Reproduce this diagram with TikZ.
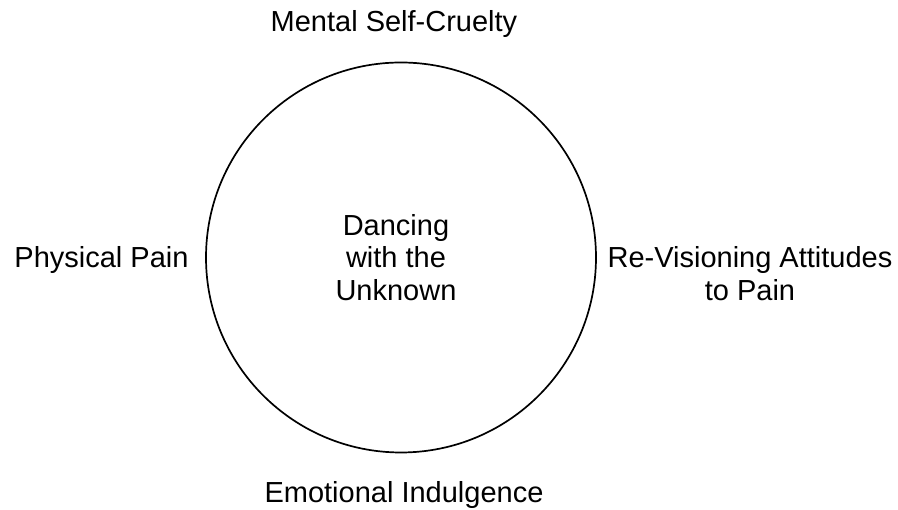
\documentclass[tikz,border=0pt]{standalone}
\usepackage{fontspec}
\setmainfont{Liberation Sans}
\begin{document}
\begin{tikzpicture}[x=1pt,y=1pt,
  label text/.style={font=\fontsize{29}{32.5}\selectfont, inner sep=0pt, align=center},
  ring/.style={draw=black, line width=1.7pt}]
  \useasboundingbox (0,0) rectangle (898,510);
  % central circle and its caption
  \node[ring, circle, minimum size=390pt, inner sep=0pt] (hub) at (401,252.5) {};
  \node[label text] (core) at (396,252.5) {Dancing\\with the\\Unknown};
  % four surrounding themes
  \node[label text, anchor=base] (top) at (394,478) {Mental Self-Cruelty};
  \node[label text, anchor=base] (left) at (101.5,242) {Physical Pain};
  \node[label text] (right) at (750,236.2) {Re-Visioning Attitudes\\to Pain};
  \node[label text, anchor=base] (bottom) at (404,7) {Emotional Indulgence};
\end{tikzpicture}
\end{document}
